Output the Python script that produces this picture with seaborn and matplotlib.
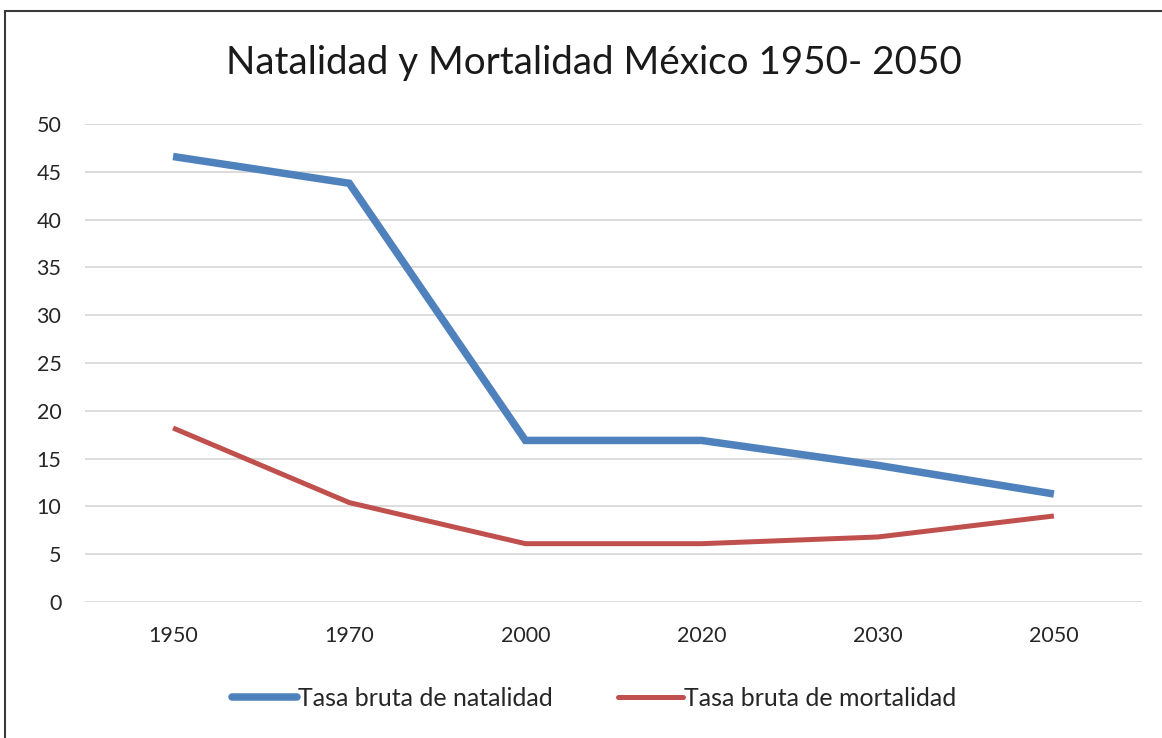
import matplotlib
matplotlib.use("Agg")
import matplotlib.pyplot as plt
import seaborn as sns
import pandas as pd
from matplotlib.patches import Rectangle
from matplotlib.lines import Line2D

years = ["1950", "1970", "2000", "2020", "2030", "2050"]
natalidad = [46.6, 43.8, 16.9, 16.9, 14.3, 11.3]
mortalidad = [18.2, 10.4, 6.1, 6.1, 6.8, 9.0]
series_names = ["Tasa bruta de natalidad", "Tasa bruta de mortalidad"]
title = "Natalidad y Mortalidad México 1950- 2050"
yticks = [0, 5, 10, 15, 20, 25, 30, 35, 40, 45, 50]

df = pd.DataFrame({
    "year": years * 2,
    "value": natalidad + mortalidad,
    "serie": [series_names[0]] * len(years) + [series_names[1]] * len(years),
})

sns.set_theme(style="white")
plt.rcParams["font.family"] = ["Lato", "DejaVu Sans"]

fig = plt.figure(figsize=(11.62, 7.38), dpi=100)
ax = fig.add_axes([85 / 1162, 1 - 602 / 738, 1057 / 1162, 478 / 738])

palette = {series_names[0]: "#4F81BD", series_names[1]: "#C0504D"}
sns.lineplot(data=df, x="year", y="value", hue="serie", palette=palette,
             sort=False, ax=ax, legend=False)
widths = [5.4, 3.6]
for line, w in zip(ax.get_lines(), widths):
    line.set_linewidth(w)
    line.set_solid_capstyle("butt")
    line.set_solid_joinstyle("miter")

ax.set_xlim(-0.5, 5.5)
ax.set_ylim(0, 50)
ax.set_yticks(yticks)
ax.set_yticklabels([str(t) for t in yticks])
ax.set_xlabel("")
ax.set_ylabel("")
ax.grid(axis="y", color="#D9D9D9", linewidth=1.3)
ax.set_axisbelow(True)
for s in ax.spines.values():
    s.set_visible(False)
ax.tick_params(axis="both", length=0, labelsize=15.5, colors="#262626")
ax.tick_params(axis="y", pad=17)
ax.tick_params(axis="x", pad=17)

fig.text(594 / 1162, 1 - 63 / 738, title, ha="center", va="center",
         fontsize=27.8, color="#1a1a1a")

handles = [Line2D([0], [0], color=palette[n], linewidth=w, solid_capstyle="round")
           for n, w in zip(series_names, widths)]
fig.legend(handles, series_names, loc="center", bbox_to_anchor=(594 / 1162, 1 - 698 / 738),
           ncol=2, frameon=False, fontsize=18, handlelength=2.6, handletextpad=0.05,
           columnspacing=2.6, labelcolor="#262626")

fig.add_artist(Rectangle((5 / 1162, -0.05), 1.2, 1 - 11 / 738 + 0.05,
                         transform=fig.transFigure, fill=False,
                         edgecolor="#3a3a3a", linewidth=1.5))

fig.savefig("out.png", dpi=100)
